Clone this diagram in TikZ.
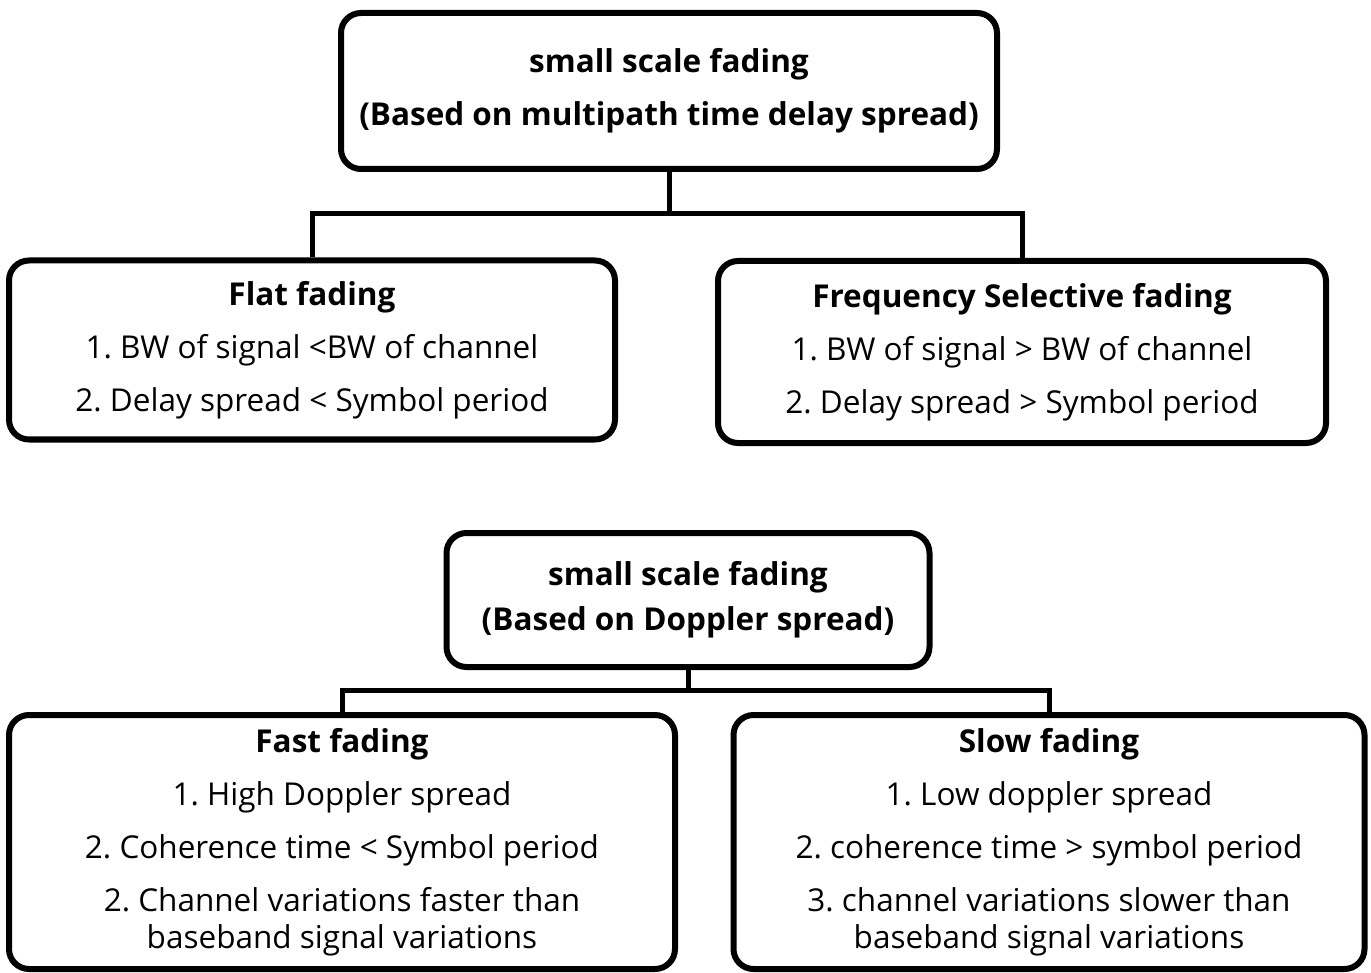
\documentclass[tikz,border=0pt]{standalone}
\usepackage{fontspec}
\setmainfont{Open Sans}
\usepackage{tikz}
\usetikzlibrary{positioning,calc}
\frenchspacing
\tikzset{
  fadebox/.style={draw, line width=6pt, rounded corners=20pt, fill=white, align=center, inner sep=0pt, font={\fontsize{31.5}{53}\selectfont\frenchspacing}},
  link/.style={line width=5pt},
}

\begin{document}
\begin{tikzpicture}[x=1pt,y=-1pt]
  \useasboundingbox (0,0) rectangle (1371,973);
  \fill[white] (0,0) rectangle (1371,973);
  % time delay spread
  \node[fadebox, minimum width=656pt, minimum height=156pt] (delay) at (669,91) {\textbf{small scale fading}\\\textbf{(Based on multipath time delay spread)}};
  \node[fadebox, minimum width=606pt, minimum height=179pt] (flat) at (312,350) {\textbf{Flat fading}\\1. BW of signal <BW of channel\\2. Delay spread < Symbol period};
  \node[fadebox, minimum width=608pt, minimum height=182pt] (freq) at (1022,352) {\textbf{Frequency Selective fading}\\1. BW of signal > BW of channel\\2. Delay spread > Symbol period};
  \coordinate (bus1) at (669,214);
  \draw[link] (delay.south) -- (bus1);
  \draw[link] (flat.north) |- (bus1) -| (freq.north);
  % Doppler spread
  \node[fadebox, minimum width=483pt, minimum height=134pt] (doppler) at (688,600) {\textbf{small scale fading}\\[-8pt]\textbf{(Based on Doppler spread)}};
  \node[fadebox, minimum width=666pt, minimum height=254pt] (fast) at (342,842) {\textbf{Fast fading}\\1. High Doppler spread\\2. Coherence time < Symbol period\\2. Channel variations faster than\\[-16pt]baseband signal variations};
  \node[fadebox, minimum width=631pt, minimum height=254pt] (slow) at (1049,842) {\textbf{Slow fading}\\1. Low doppler spread\\2. coherence time > symbol period\\3. channel variations slower than\\[-16pt]baseband signal variations};
  \coordinate (bus2) at (688,690);
  \draw[link] (doppler.south) -- (bus2);
  \draw[link] (fast.north) |- (bus2) -| (slow.north);
\end{tikzpicture}
\end{document}
